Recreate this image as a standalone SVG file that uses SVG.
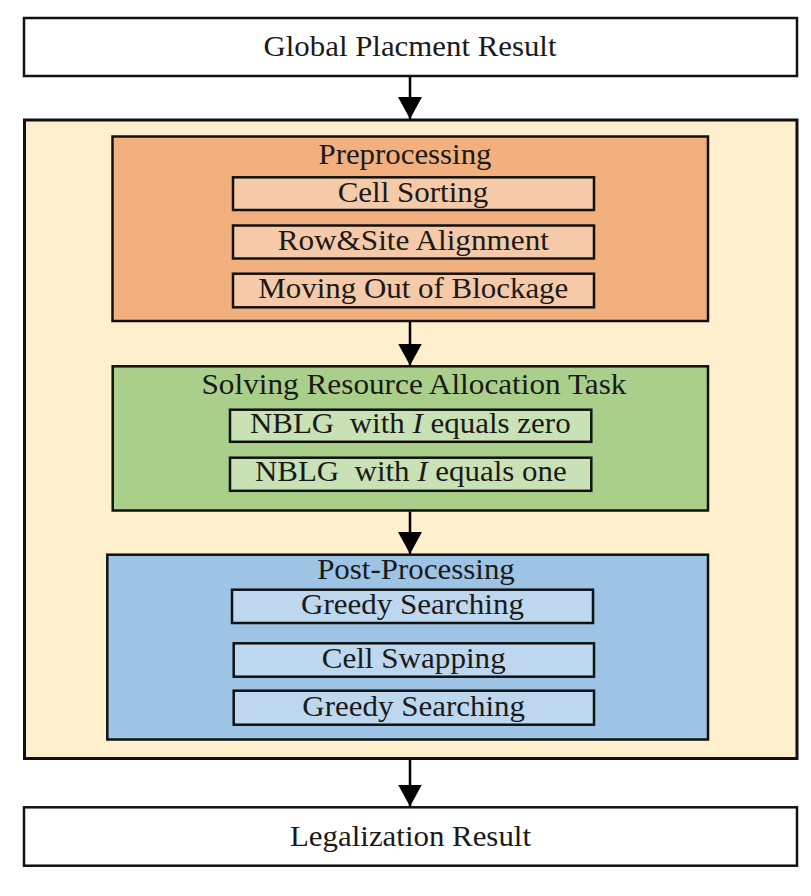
<svg xmlns="http://www.w3.org/2000/svg" width="811" height="896" viewBox="0 0 811 896">
<style>
.t{font-family:"Liberation Serif","Times New Roman",Times,serif;font-size:30px;fill:#1a1a1a;text-anchor:middle}
.box{stroke:#111;stroke-width:2.5}
.conn{stroke:#000;stroke-width:2.5;fill:none}
</style>
<defs>
<marker id="ah" markerUnits="userSpaceOnUse" markerWidth="22" markerHeight="24" refX="22" refY="12" orient="auto" viewBox="0 0 22 24">
<path d="M0,0 L22,12 L0,24 z" fill="#000"/>
</marker>
</defs>
<rect width="811" height="896" fill="#fff"/>
<g id="global-placement">
<rect class="box" x="24" y="18" width="773" height="58" fill="#fff"/>
<text class="t" x="410" y="56" textLength="293" lengthAdjust="spacingAndGlyphs">Global Placment Result</text>
</g>
<g id="legalization-flow">
<rect x="24.5" y="120" width="772.5" height="638.5" fill="#FFEFCC" stroke="#111" stroke-width="3"/>
</g>
<g id="preprocessing">
<rect class="box" x="112.5" y="136.5" width="595.5" height="184.5" fill="#F2B07F"/>
<text class="t" x="405" y="164" textLength="173" lengthAdjust="spacingAndGlyphs">Preprocessing</text>
<g id="cell-sorting">
<rect class="box" x="233" y="177.3" width="361" height="32.7" fill="#F6C9A8"/>
<text class="t" x="413" y="202" textLength="150.6" lengthAdjust="spacingAndGlyphs">Cell Sorting</text>
</g>
<g id="row-site-alignment">
<rect class="box" x="233" y="225.5" width="361" height="33" fill="#F6C9A8"/>
<text class="t" x="413.3" y="250" textLength="271.3" lengthAdjust="spacingAndGlyphs">Row&amp;Site Alignment</text>
</g>
<g id="moving-out-of-blockage">
<rect class="box" x="233" y="273.7" width="361" height="33.6" fill="#F6C9A8"/>
<text class="t" x="413.3" y="298.3" textLength="310" lengthAdjust="spacingAndGlyphs">Moving Out of Blockage</text>
</g>
</g>
<g id="resource-allocation">
<rect class="box" x="112.7" y="366.3" width="595.3" height="144.2" fill="#A9CF8B"/>
<text class="t" x="414" y="394" textLength="425" lengthAdjust="spacingAndGlyphs">Solving Resource Allocation Task</text>
<g id="nblg-zero">
<rect class="box" x="230" y="409.7" width="361.3" height="32.1" fill="#C8E2B5"/>
<text class="t" x="410.3" y="433" textLength="320.7" lengthAdjust="spacingAndGlyphs" xml:space="preserve">NBLG  with <tspan font-style="italic">I</tspan> equals zero</text>
</g>
<g id="nblg-one">
<rect class="box" x="230" y="457.7" width="361.3" height="33.1" fill="#C8E2B5"/>
<text class="t" x="410.8" y="481" textLength="311.7" lengthAdjust="spacingAndGlyphs" xml:space="preserve">NBLG  with <tspan font-style="italic">I</tspan> equals one</text>
</g>
</g>
<g id="post-processing">
<rect class="box" x="107.3" y="554.7" width="600.7" height="184.8" fill="#9DC3E5"/>
<text class="t" x="416" y="579" textLength="197.7" lengthAdjust="spacingAndGlyphs">Post-Processing</text>
<g id="greedy-searching-1">
<rect class="box" x="232" y="589.7" width="361" height="33.3" fill="#BDD7EE"/>
<text class="t" x="412.5" y="614" textLength="223" lengthAdjust="spacingAndGlyphs">Greedy Searching</text>
</g>
<g id="cell-swapping">
<rect class="box" x="233.7" y="643.3" width="360.3" height="33.4" fill="#BDD7EE"/>
<text class="t" x="413.7" y="668.3" textLength="184" lengthAdjust="spacingAndGlyphs">Cell Swapping</text>
</g>
<g id="greedy-searching-2">
<rect class="box" x="233.7" y="690.7" width="360.3" height="34" fill="#BDD7EE"/>
<text class="t" x="413.7" y="715.7" textLength="222.7" lengthAdjust="spacingAndGlyphs">Greedy Searching</text>
</g>
</g>
<g id="legalization-result">
<rect class="box" x="24" y="807.3" width="773" height="58.4" fill="#fff"/>
<text class="t" x="410.5" y="846" textLength="241" lengthAdjust="spacingAndGlyphs">Legalization Result</text>
</g>
<g id="connectors">
<line class="conn" x1="410" y1="77" x2="410" y2="119" marker-end="url(#ah)"/>
<line class="conn" x1="410" y1="322" x2="410" y2="365.5" marker-end="url(#ah)"/>
<line class="conn" x1="410" y1="511.5" x2="410" y2="554" marker-end="url(#ah)"/>
<line class="conn" x1="410" y1="760" x2="410" y2="806.5" marker-end="url(#ah)"/>
</g>
</svg>
